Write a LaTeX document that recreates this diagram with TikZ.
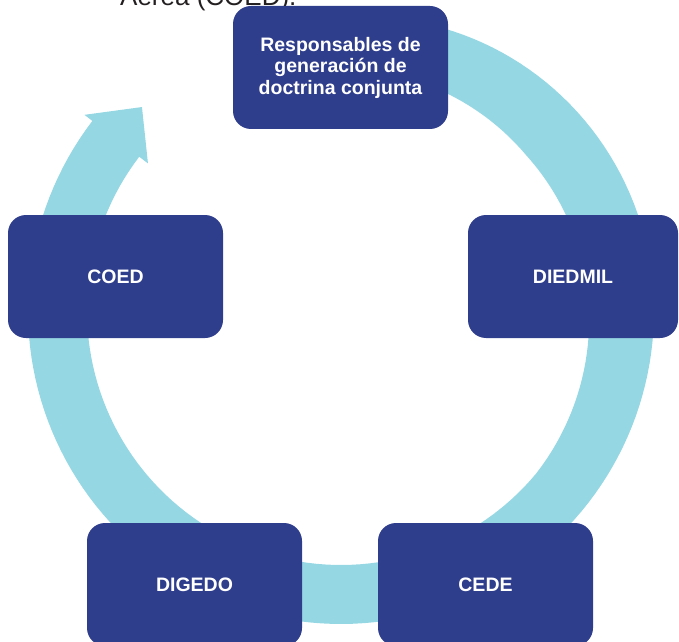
\documentclass[tikz,border=0pt]{standalone}
\usepackage{fontspec}
\setmainfont{Liberation Sans}
\definecolor{cycleblue}{HTML}{96D7E4}
\definecolor{boxblue}{HTML}{2E3D8C}
\definecolor{captiongray}{HTML}{231F20}
\begin{document}
\begin{tikzpicture}[x=1pt, y=1pt,
  box/.style={
    shape=rectangle,
    rounded corners=18pt,
    minimum width=215pt,
    minimum height=123pt,
    inner sep=0pt,
    align=center,
    text=white,
    fill=boxblue,
    font=\bfseries\fontsize{19.5}{21.5}\selectfont,
  }]

\useasboundingbox (0,0) rectangle (679,641);
\clip (0,0) rectangle (679,641);

% caption line, cut off at the top
\node[anchor=base west, inner sep=0pt, text=captiongray,
      font=\fontsize{26}{30}\selectfont] (caption) at (120,635) {Aérea (COED).};

% cycle arrow
\begin{scope}[shift={(341,330)}]
  \fill[cycleblue]
    plot[domain=100:-217.4, samples=160, variable=\t]
      (\t:{313-0.0025*max(\t,0)*max(\t,0)})
    -- (-217.4:323) -- (-225.7:285) -- (-217.4:243)
    -- plot[domain=-217.4:100, samples=160, variable=\t]
      (\t:{248-6*max(-1,min(1,\t/40))})
    -- cycle;
\end{scope}

\node[box] (resp) at (340.5,573.5) {Responsables de\\generación de\\doctrina conjunta};
\node[box, minimum width=210pt] (diedmil) at (573,364.5) {DIEDMIL};
\node[box] (coed) at (115.5,364.5) {COED};
\node[box] (digedo) at (194.5,56.5) {DIGEDO};
\node[box] (cede) at (485.5,56.5) {CEDE};

\end{tikzpicture}
\end{document}
